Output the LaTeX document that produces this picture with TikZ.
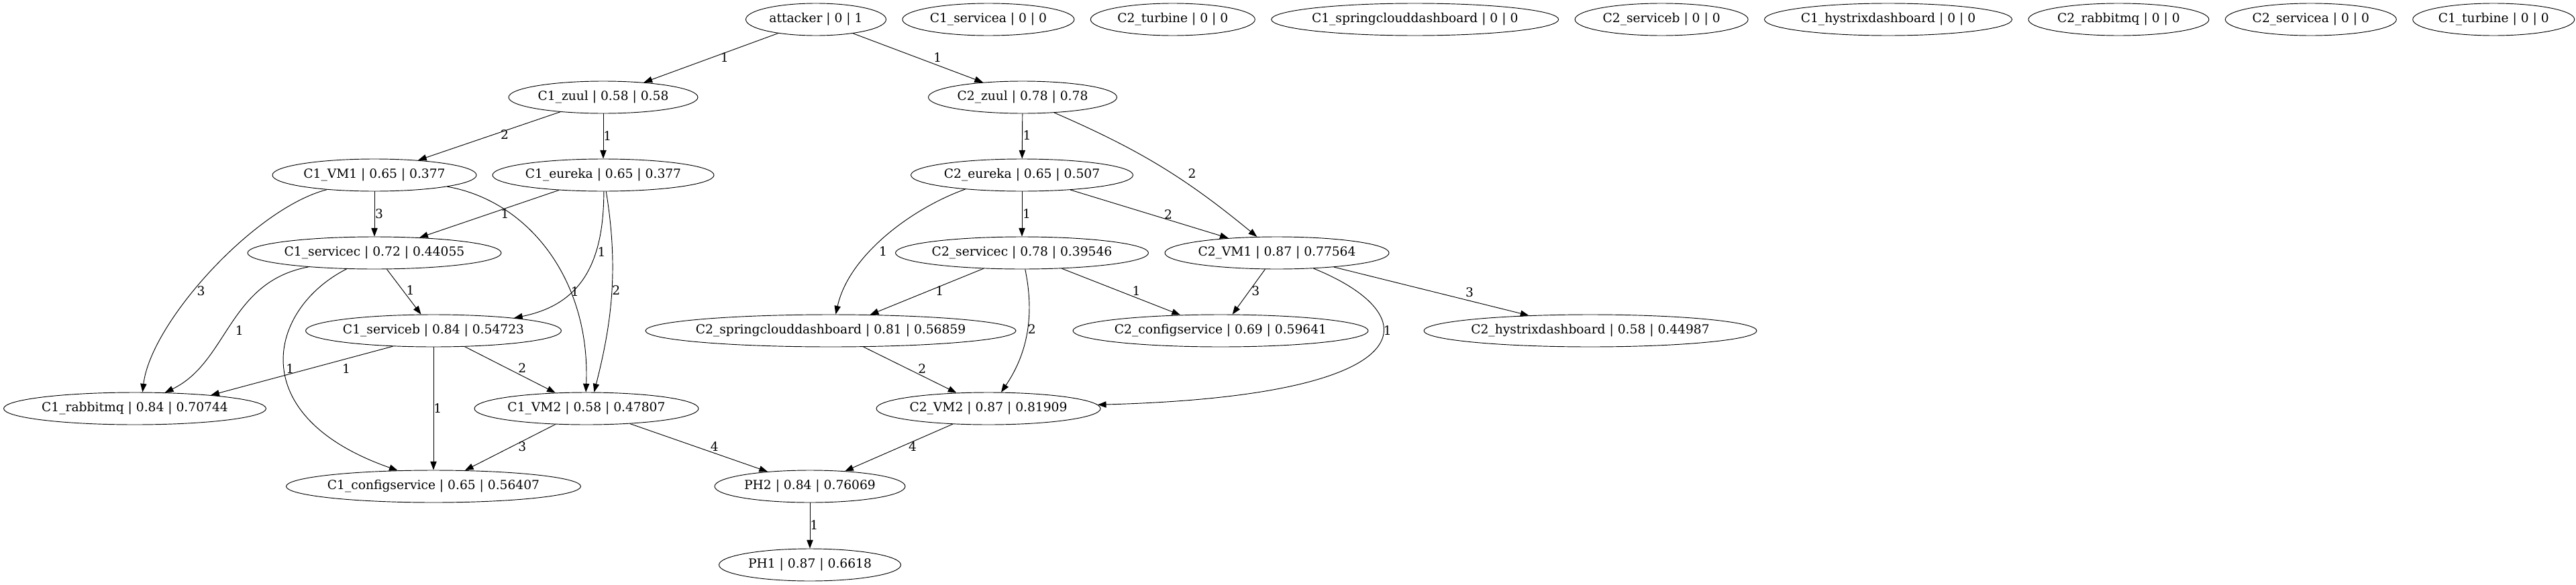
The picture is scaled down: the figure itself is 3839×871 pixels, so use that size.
\documentclass[tikz,border=0pt]{standalone}
\usepackage{fontspec}
\setmainfont{DejaVu Serif}
\usetikzlibrary{positioning,shapes.geometric,arrows.meta}
\newcommand{\gvfont}{\fontsize{14pt}{16pt}\selectfont}
\newcommand{\nb}[1]{\makebox[0pt]{#1}}
\tikzset{
  host/.style={draw, ellipse, line width=0.7pt, minimum height=36pt, inner sep=0pt, font=\gvfont},
  hop/.style={-{Triangle[length=9.5pt,width=7pt]}, line width=0.7pt},
  wt/.style={font=\gvfont, inner sep=0pt}
}
\begin{document}
\begin{tikzpicture}[x=0.75pt, y=-0.75pt, node distance=17.6pt]
                \path[use as bounding box, fill=white] (0,0) rectangle (3839,871);

                \node[host, minimum width=156.75pt] (att) at (1216,29) {\nb{attacker | 0 | 1}};
                \node[host, minimum width=192pt, right=of att] (c1sa) {\nb{C1\_servicea | 0 | 0}};
                \node[host, minimum width=183.75pt, right=of c1sa] (c2tu) {\nb{C2\_turbine | 0 | 0}};
                \node[host, minimum width=321pt, right=of c2tu] (c1scd) {\nb{C1\_springclouddashboard | 0 | 0}};
                \node[host, minimum width=193.5pt, right=of c1scd] (c2sb) {\nb{C2\_serviceb | 0 | 0}};
                \node[host, minimum width=276.75pt, right=of c2sb] (c1hd) {\nb{C1\_hystrixdashboard | 0 | 0}};
                \node[host, minimum width=201.75pt, right=of c1hd] (c2rm) {\nb{C2\_rabbitmq | 0 | 0}};
                \node[host, minimum width=191.25pt, right=of c2rm] (c2sa) {\nb{C2\_servicea | 0 | 0}};
                \node[host, minimum width=180.75pt, right=of c2sa] (c1tu) {\nb{C1\_turbine | 0 | 0}};

                \node[host, minimum width=211.5pt] (c1zuul) at (899,145) {\nb{C1\_zuul | 0.58 | 0.58}};
                \node[host, minimum width=210.75pt] (c2zuul) at (1524,145) {\nb{C2\_zuul | 0.78 | 0.78}};
                \node[host, minimum width=228pt] (c1vm1) at (558,261) {\nb{C1\_VM1 | 0.65 | 0.377}};
                \node[host, minimum width=247.5pt] (c1eureka) at (899,261) {\nb{C1\_eureka | 0.65 | 0.377}};
                \node[host, minimum width=248.25pt] (c2eureka) at (1523,261) {\nb{C2\_eureka | 0.65 | 0.507}};
                \node[host, minimum width=283.5pt] (c1servicec) at (558,377) {\nb{C1\_servicec | 0.72 | 0.44055}};
                \node[host, minimum width=282.75pt] (c2servicec) at (1523,377) {\nb{C2\_servicec | 0.78 | 0.39546}};
                \node[host, minimum width=250.5pt] (c2vm1) at (1903,377) {\nb{C2\_VM1 | 0.87 | 0.77564}};
                \node[host, minimum width=285.75pt] (c1serviceb) at (646,493) {\nb{C1\_serviceb | 0.84 | 0.54723}};
                \node[host, minimum width=414pt] (c2scd) at (1238,493) {\nb{C2\_springclouddashboard | 0.81 | 0.56859}};
                \node[host, minimum width=330pt] (c2config) at (1819,493) {\nb{C2\_configservice | 0.69 | 0.59641}};
                \node[host, minimum width=372pt] (c2hystrix) at (2370,493) {\nb{C2\_hystrixdashboard | 0.58 | 0.44987}};
                \node[host, minimum width=293.25pt] (c1rabbit) at (201,609) {\nb{C1\_rabbitmq | 0.84 | 0.70744}};
                \node[host, minimum width=250.5pt] (c1vm2) at (874,609) {\nb{C1\_VM2 | 0.58 | 0.47807}};
                \node[host, minimum width=250.5pt] (c2vm2) at (1473,609) {\nb{C2\_VM2 | 0.87 | 0.81909}};
                \node[host, minimum width=329.25pt] (c1config) at (646,725) {\nb{C1\_configservice | 0.65 | 0.56407}};
                \node[host, minimum width=213pt] (ph2) at (1207,725) {\nb{PH2 | 0.84 | 0.76069}};
                \node[host, minimum width=203.25pt] (ph1) at (1207,842) {\nb{PH1 | 0.87 | 0.6618}};

                \draw[hop] (att) -- node[wt, pos=.41, xshift=1.6pt, yshift=-4.3pt] {1} (c1zuul);
                \draw[hop] (att) -- node[wt, pos=.63, xshift=2.9pt, yshift=7.7pt] {1} (c2zuul);
                \draw[hop] (c1zuul) -- node[wt, pos=.4, xshift=1.4pt, yshift=-4pt] {2} (c1vm1);
                \draw[hop] (c1zuul) -- node[wt, pos=.49, xshift=4.75pt] {1} (c1eureka);
                \draw[hop] (c1vm1) -- node[wt, pos=.49, xshift=5.25pt] {3} (c1servicec);
                \draw[hop] (c1eureka) -- node[wt, pos=.4, xshift=1.9pt, yshift=-5.4pt] {1} (c1servicec);
                \draw[hop] (c1vm1.197) .. controls (380,310) and (225,480) .. node[wt, pos=.58, xshift=7.5pt] {3} (c1rabbit.65);
                \draw[hop] (c1vm1.351) .. controls (790,300) and (880,420) .. node[wt, pos=.66, xshift=5.75pt] {1} (c1vm2.92);
                \draw[hop] (c1eureka.272) .. controls (900,400) and (860,455) .. node[wt, pos=.31, xshift=6.5pt] {1} (c1serviceb.9);
                \draw[hop] (c1eureka.280) .. controls (922,400) and (912,480) .. node[wt, pos=.48, xshift=5pt] {2} (c1vm2.65);
                \draw[hop] (c1servicec.192) .. controls (340,420) and (340,540) .. node[wt, pos=.54, xshift=15pt] {1} (c1rabbit.28);
                \draw[hop] (c1servicec.210) .. controls (400,460) and (360,620) .. node[wt, pos=.52, xshift=6pt] {1} (c1config.156);
                \draw[hop] (c1servicec) -- node[wt, pos=.55, xshift=5.3pt, yshift=4pt] {1} (c1serviceb);
                \draw[hop] (c1serviceb.201) -- node[wt, pos=.27, xshift=2.9pt, yshift=-10.6pt] {1} (c1rabbit.10);
                \draw[hop] (c1serviceb) -- node[wt, pos=.5, xshift=4.75pt] {1} (c1config);
                \draw[hop] (c1serviceb) -- node[wt, pos=.6, xshift=3.4pt, yshift=6.75pt] {2} (c1vm2);
                \draw[hop] (c1vm2) -- node[wt, pos=.39, xshift=2.25pt, yshift=-4.5pt] {3} (c1config);
                \draw[hop] (c1vm2) -- node[wt, pos=.6, xshift=2.25pt, yshift=6.5pt] {4} (ph2);
                \draw[hop] (c2vm2) -- node[wt, pos=.39, xshift=2.1pt, yshift=-4.8pt] {4} (ph2);
                \draw[hop] (ph2) -- node[wt, pos=.48, xshift=4.75pt] {1} (ph1);
                \draw[hop] (c2zuul) -- node[wt, pos=.48, xshift=5.25pt] {1} (c2eureka);
                \draw[hop] (c2zuul.334) to[bend left=8] node[wt, pos=.6, xshift=14.4pt, yshift=5.6pt] {2} (c2vm1.141);
                \draw[hop] (c2eureka) -- node[wt, pos=.49, xshift=5.25pt] {1} (c2servicec);
                \draw[hop] (c2eureka) -- node[wt, pos=.61, xshift=1.65pt, yshift=5.7pt] {2} (c2vm1);
                \draw[hop] (c2eureka.194) .. controls (1360,310) and (1265,380) .. node[wt, pos=.61, xshift=14pt] {1} (c2scd.73);
                \draw[hop] (c2servicec) -- node[wt, pos=.4, xshift=1.7pt, yshift=-4.3pt] {1} (c2scd);
                \draw[hop] (c2servicec.281) .. controls (1540,460) and (1536,520) .. node[wt, pos=.5, xshift=5.2pt] {2} (c2vm2.52);
                \draw[hop] (c2servicec) -- node[wt, pos=.61, xshift=2.6pt, yshift=6.8pt] {1} (c2config);
                \draw[hop] (c2vm1) -- node[wt, pos=.41, xshift=4.5pt, yshift=-3.3pt] {3} (c2config);
                \draw[hop] (c2vm1.337) .. controls (2130,470) and (2130,590) .. node[wt, pos=.38, xshift=4.5pt] {1} (c2vm2.2);
                \draw[hop] (c2vm1) -- node[wt, pos=.69, xshift=1.3pt, yshift=8.9pt] {3} (c2hystrix);
                \draw[hop] (c2scd) -- node[wt, pos=.6, xshift=3.2pt, yshift=6.6pt] {2} (c2vm2);
            \end{tikzpicture}
\end{document}
